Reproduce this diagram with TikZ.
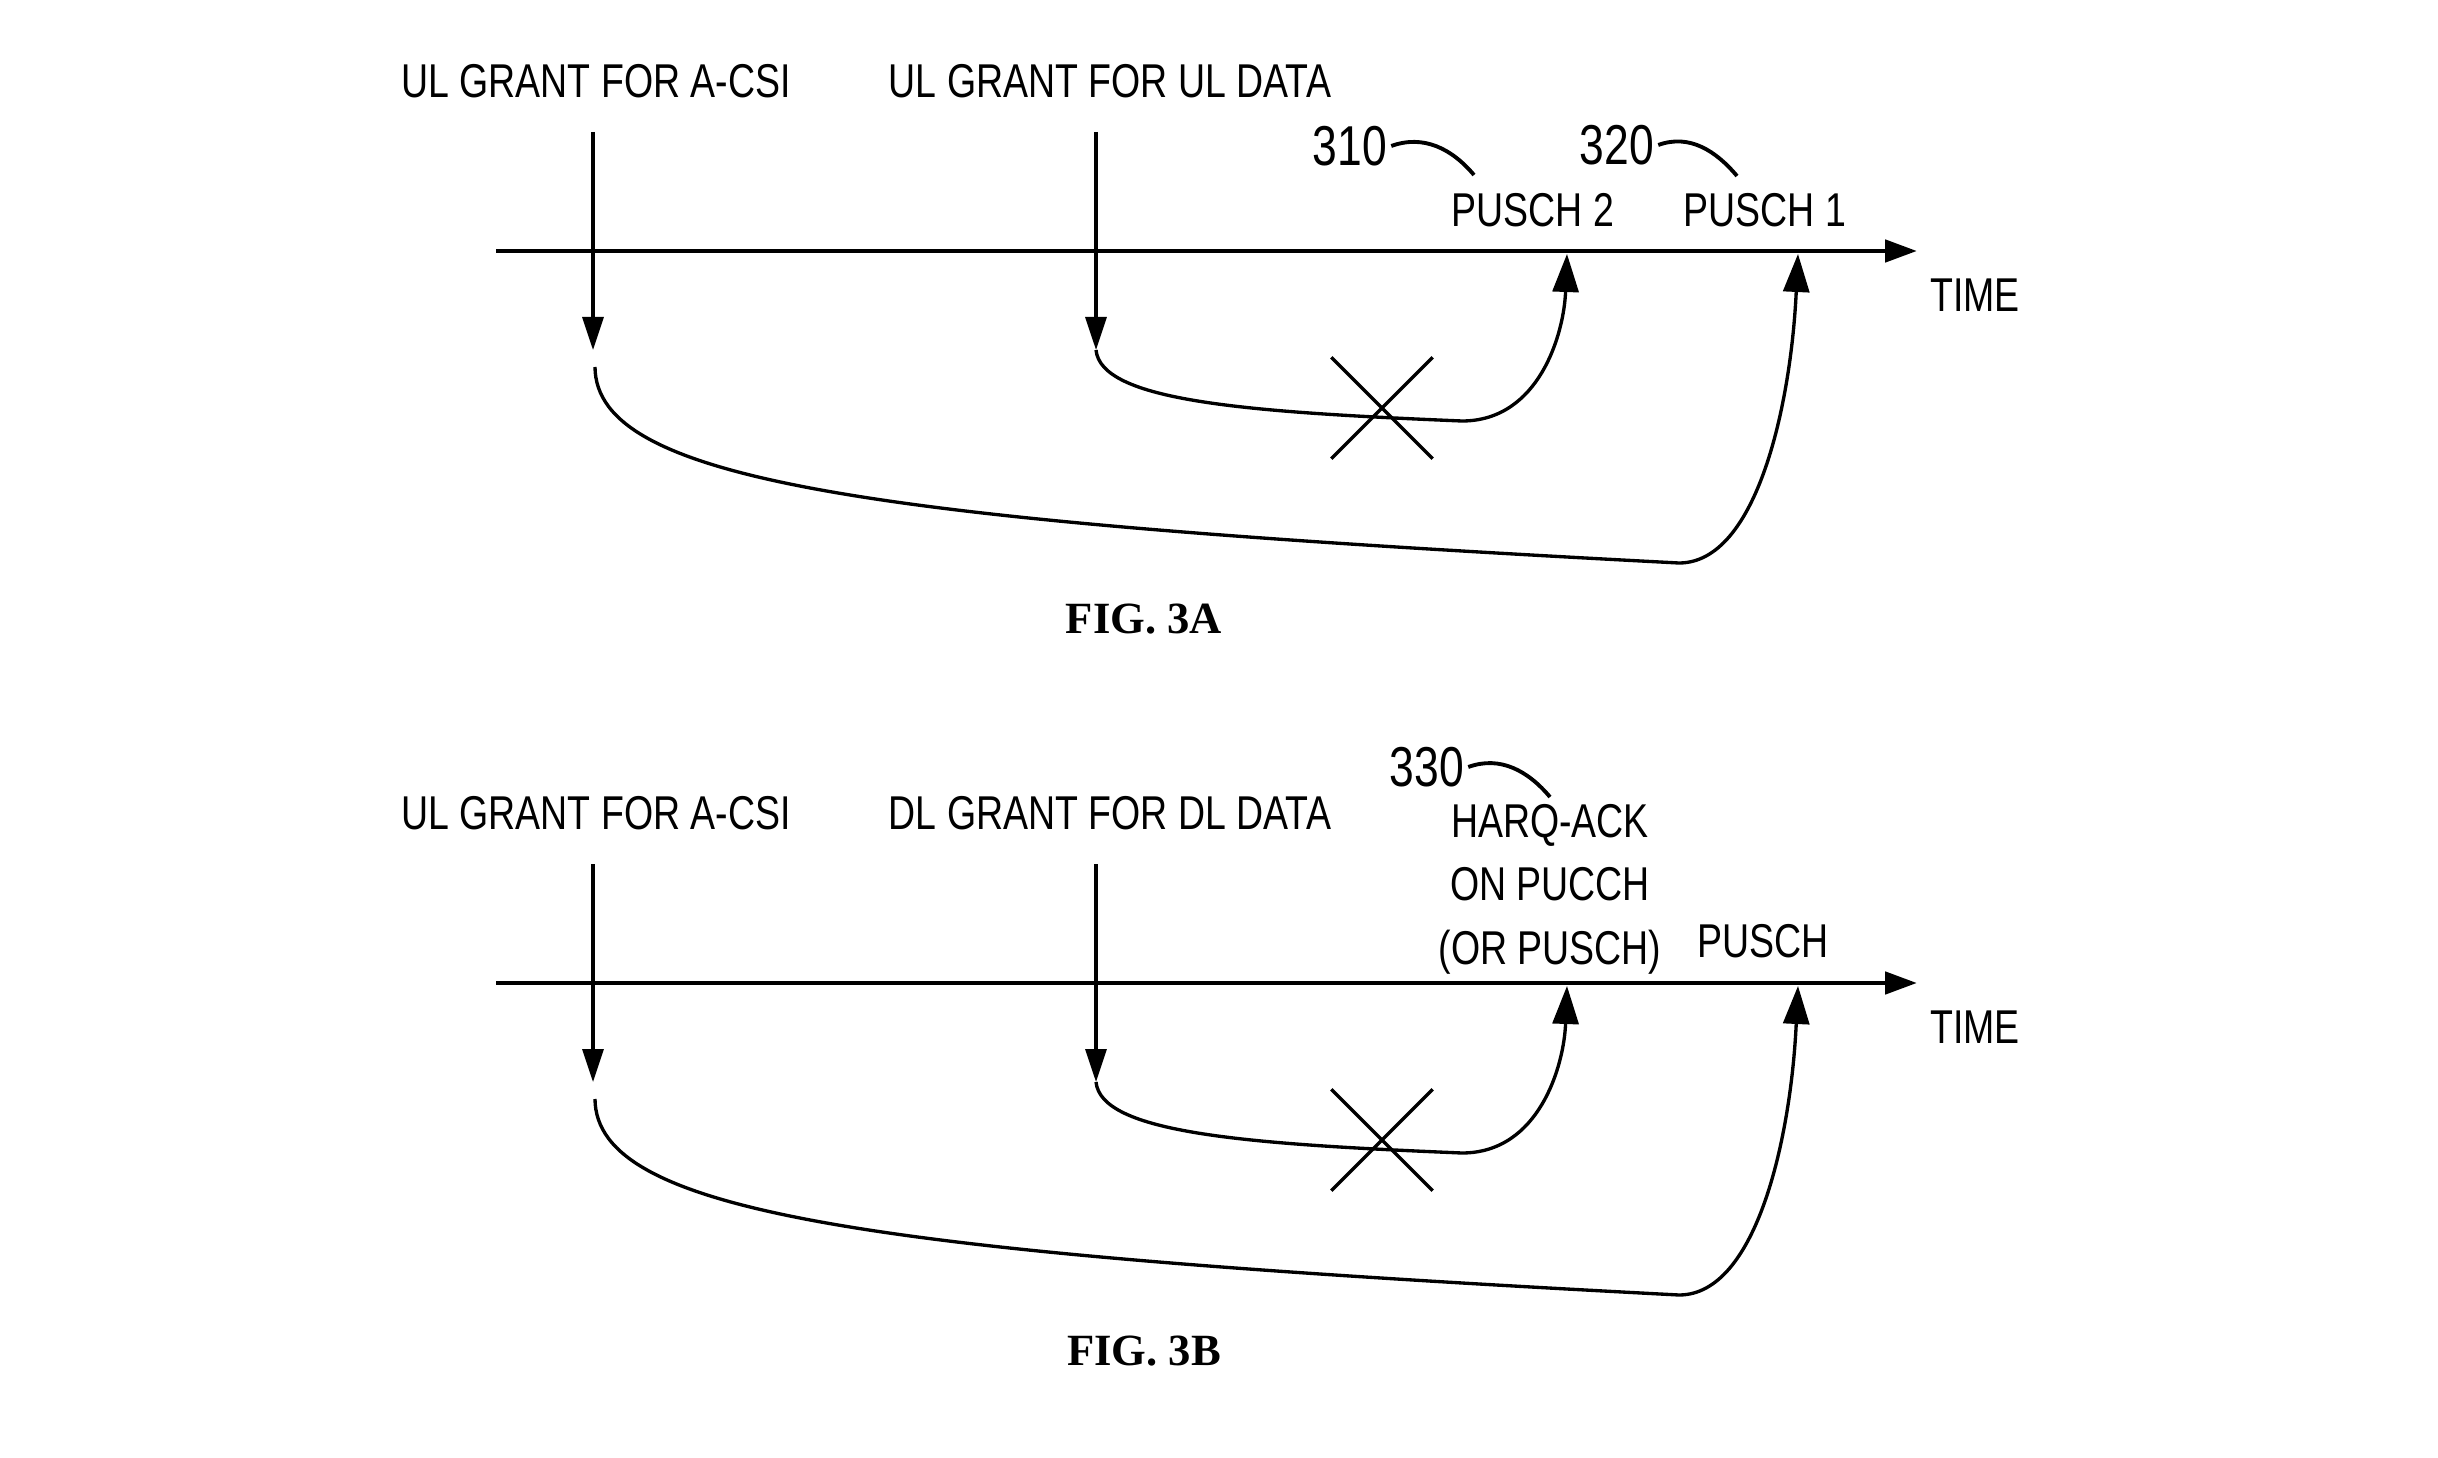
\documentclass[tikz,border=0pt]{standalone}
\usepackage{fontspec}
\setmainfont{Liberation Sans}[FakeStretch=0.79]
\newfontfamily\figfont{Liberation Serif}
\usetikzlibrary{arrows.meta, shapes.misc}

\begin{document}
\begin{tikzpicture}[
    axisline/.style={line width=1.4pt, -{Triangle[length=0.32cm, width=0.22cm]}},
    grantarrow/.style={line width=0.95pt, -{Triangle[length=0.33cm, width=0.21cm]}},
    txarrow/.style={line width=0.95pt, -{Triangle[length=0.38cm, width=0.26cm]}},
    lbl/.style={font=\fontsize{13.5}{18.1}\selectfont, inner sep=0pt, align=center},
    refnum/.style={font=\fontsize{16}{18}\selectfont, inner sep=0pt},
    leader/.style={line width=1.1pt},
    figlbl/.style={font=\figfont\bfseries\fontsize{12.7}{14}\selectfont, inner sep=0pt},
    dropped/.style={draw, cross out, line width=0.95pt, minimum size=0.98cm, inner sep=0pt}
]
\useasboundingbox (0,0) rectangle (24.38,-14.58);

% Helper macro for one timeline figure
% Arguments: name prefix, y-offset, second grant label, figure label
\def\grantfig#1#2#3#4{
    \begin{scope}[shift={(0,#2)}]
    % Grant labels
    \node[lbl] (#1-csi) at (5.96,-0.81) {UL GRANT FOR A-CSI};
    \node[lbl] (#1-grant) at (11.10,-0.81) {#3};
    % Time axis
    \coordinate (#1-t0) at (4.96,-2.51);
    \coordinate (#1-t1) at (19.17,-2.51);
    \draw[axisline] (#1-t0) -- (#1-t1);
    \node[lbl] (#1-time) at (19.75,-2.95) {TIME};
    % Grant arrows
    \coordinate (#1-csitop) at (5.93,-1.32);
    \coordinate (#1-csitip) at (5.93,-3.50);
    \coordinate (#1-datatop) at (10.96,-1.32);
    \coordinate (#1-datatip) at (10.96,-3.50);
    \draw[grantarrow] (#1-csitop) -- (#1-csitip);
    \draw[grantarrow] (#1-datatop) -- (#1-datatip);
    % Scheduled transmissions on the axis
    \coordinate (#1-near) at (15.67,-2.54);
    \coordinate (#1-far) at (17.98,-2.54);
    % Long delay from the A-CSI grant
    \coordinate (#1-csistart) at (5.95,-3.67);
    \draw[txarrow] (#1-csistart) .. controls (5.96,-4.82) and (8.71,-5.21) .. (16.79,-5.63)
        .. controls (17.57,-5.63) and (17.91,-4.04) .. (#1-far);
    % Short delay from the data grant
    \draw[txarrow] (#1-datatip) .. controls (11.01,-4.01) and (12.44,-4.12) .. (14.62,-4.21)
        .. controls (15.39,-4.21) and (15.64,-3.34) .. (#1-near);
    % Dropped transmission
    \node[dropped] (#1-drop) at (13.82,-4.08) {};
    % Figure label
    \node[figlbl] (#1-fig) at (11.44,-6.19) {#4};
    \end{scope}
}

\grantfig{a}{0}{UL GRANT FOR UL DATA}{FIG. 3A}
\grantfig{b}{-7.32}{DL GRANT FOR DL DATA}{FIG. 3B}

% FIG. 3A reference labels
\node[refnum] (a-n310) at (13.50,-1.46) {310};
\node[lbl] (a-pusch2) at (15.33,-2.10) {PUSCH 2};
\coordinate (a-c310) at (14.74,-1.75);
\draw[leader] ([xshift=1pt]a-n310.east) to[out=20,in=130] (a-c310);
\node[refnum] (a-n320) at (16.17,-1.45) {320};
\node[lbl] (a-pusch1) at (17.65,-2.10) {PUSCH 1};
\coordinate (a-c320) at (17.37,-1.76);
\draw[leader] ([xshift=1pt]a-n320.east) to[out=20,in=130] (a-c320);

% FIG. 3B reference labels
\node[refnum] (b-n330) at (14.27,-7.67) {330};
\node[lbl] (b-harq) at (15.50,-8.89) {HARQ-ACK\\ON PUCCH\\(OR PUSCH)};
\coordinate (b-c330) at (15.50,-7.97);
\draw[leader] ([xshift=1pt]b-n330.east) to[out=20,in=130] (b-c330);
\node[lbl] (b-pusch) at (17.63,-9.41) {PUSCH};

\end{tikzpicture}
\end{document}
